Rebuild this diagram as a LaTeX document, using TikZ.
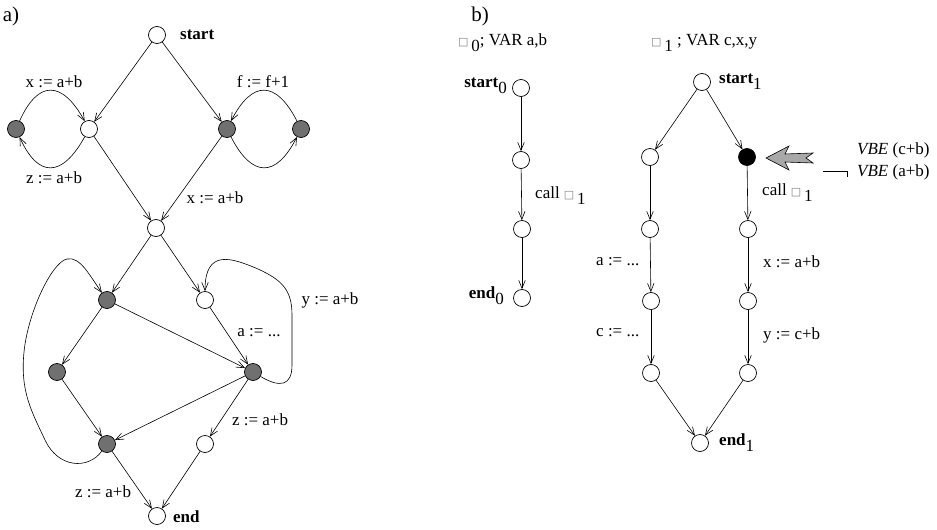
\documentclass[tikz,border=0pt]{standalone}
\usepackage{fontspec}
\setmainfont{Liberation Serif}
\newfontfamily\symf{DejaVu Sans}
\usetikzlibrary{arrows.meta}
\definecolor{nodegray}{HTML}{707070}
\definecolor{arrowgray}{HTML}{A8A8A8}
% placeholder box glyph for the process name
\newcommand{\pbox}{\textcolor{gray}{\symf\fontsize{11}{11}\selectfont □}}
\newcommand{\lowsub}[1]{\raisebox{-6pt}{#1}}
\tikzset{
  every node/.style={font=\fontsize{17}{20}\selectfont},
  vtx/.style={circle, draw, line width=0.7pt, minimum size=17pt, inner sep=0pt, fill=white},
  gvtx/.style={vtx, fill=nodegray},
  bvtx/.style={vtx, fill=black},
  arr/.style={line width=0.6pt, -{Straight Barb[length=8pt,width=6.5pt,line width=0.6pt]}},
  lbl/.style={inner sep=0pt},
  panel/.style={inner sep=0pt, font=\fontsize{21}{24}\selectfont},
}
\begin{document}
\begin{tikzpicture}[x=1pt,y=-1pt]
\useasboundingbox (0,0) rectangle (937,530);

% ---------------- panel a ----------------
\node[panel] (pa) at (11,16) {a)};

\node[vtx]  (s)   at (157,35)  {};
\node[gvtx] (gl)  at (16,129)  {};
\node[vtx]  (wl)  at (89,129)  {};
\node[gvtx] (gr)  at (227,129) {};
\node[gvtx] (grr) at (301,129) {};
\node[vtx]  (m)   at (156,228) {};
\node[gvtx] (g1)  at (107,300) {};
\node[vtx]  (w2)  at (205,300) {};
\node[gvtx] (g3)  at (57,372)  {};
\node[gvtx] (g4)  at (253,372) {};
\node[gvtx] (g5)  at (107,444) {};
\node[vtx]  (w6)  at (205,444) {};
\node[vtx]  (e)   at (157,516) {};

\node[lbl, anchor=west, font=\fontsize{17}{20}\selectfont\bfseries] (sl) at (180,35) {start};
\node[lbl, anchor=west, font=\fontsize{17}{20}\selectfont\bfseries] (el) at (173,517) {end};

\draw[arr] (s) -- (wl);
\draw[arr] (s) -- (gr);
\draw[arr] (gl) .. controls (38,80) and (62,80) .. (wl);
\draw[arr] (wl) .. controls (62,178) and (38,178) .. (gl);
\draw[arr] (gr) .. controls (252,178) and (276,178) .. (grr);
\draw[arr] (grr) .. controls (276,80) and (252,80) .. (gr);
\draw[arr] (wl) -- (m);
\draw[arr] (gr) -- (m);
\draw[arr] (m) -- (g1);
\draw[arr] (m) -- (w2);
\draw[arr] (g1) -- (g3);
\draw[arr] (g1) -- (g4);
\draw[arr] (w2) -- (g4);
\draw[arr] (g3) -- (g5);
\draw[arr] (g4) -- (g5);
\draw[arr] (g4) -- (w6);
\draw[arr] (g5) -- (e);
\draw[arr] (w6) -- (e);
% back edge g4 -> w2 round the right
\draw[arr] (g4) .. controls (280,388) and (292,386) .. (292,365)
  -- (292,315) .. controls (292,290) and (282,280) .. (258,269)
  .. controls (232,258) and (205,248) .. (w2);
% back edge g5 -> g1 round the left
\draw[arr] (g5) .. controls (88,470) and (58,468) .. (45,440)
  .. controls (32,412) and (20,392) .. (24,352)
  .. controls (28,312) and (52,262) .. (67,259)
  .. controls (80,256) and (90,276) .. (g1);

\node[lbl] (l1) at (54,82)   {x := a+b};
\node[lbl] (l2) at (54,178)  {z := a+b};
\node[lbl] (l3) at (263,82)  {f := f+1};
\node[lbl] (l4) at (215,198) {x := a+b};
\node[lbl] (l5) at (330,300) {y := a+b};
\node[lbl] (l6) at (259,333) {a := ...};
\node[lbl] (l7) at (260,420) {z := a+b};
\node[lbl] (l8) at (103,492) {z := a+b};

% ---------------- panel b ----------------
\node[panel] (pb) at (480,16) {b)};

\node[lbl, anchor=west] (h0) at (458,43) {\pbox\,\lowsub{0}; VAR a,b};
\node[lbl, anchor=west] (h1) at (651,43) {\pbox\,\lowsub{1} ; VAR c,x,y};

% procedure 0
\node[vtx] (a0) at (521,88)  {};
\node[vtx] (a1) at (521,160) {};
\node[vtx] (a2) at (522,229) {};
\node[vtx] (a3) at (522,298) {};
\draw[arr] (a0) -- (a1);
\draw[arr] (a1) -- (a2);
\draw[arr] (a2) -- (a3);
\node[lbl, anchor=east] (a0l) at (507,86) {\textbf{start}\lowsub{0}};
\node[lbl, anchor=east] (a3l) at (504,296) {\textbf{end}\lowsub{0}};
\node[lbl, anchor=west] (c0) at (535,196) {call \pbox\,\lowsub{1}};

% procedure 1
\node[vtx]  (b0) at (702,82)  {};
\node[vtx]  (p1) at (650,157) {};
\node[vtx]  (p2) at (650,229) {};
\node[vtx]  (p3) at (651,301) {};
\node[vtx]  (p4) at (651,373) {};
\node[bvtx] (q1) at (747,157) {};
\node[vtx]  (q2) at (748,229) {};
\node[vtx]  (q3) at (748,301) {};
\node[vtx]  (q4) at (748,373) {};
\node[vtx]  (b5) at (700,443) {};
\draw[arr] (b0) -- (p1);
\draw[arr] (b0) -- (q1);
\draw[arr] (p1) -- (p2);
\draw[arr] (p2) -- (p3);
\draw[arr] (p3) -- (p4);
\draw[arr] (q1) -- (q2);
\draw[arr] (q2) -- (q3);
\draw[arr] (q3) -- (q4);
\draw[arr] (p4) -- (b5);
\draw[arr] (q4) -- (b5);

\node[lbl, anchor=west] (b0l) at (719,82)  {\textbf{start}\lowsub{1}};
\node[lbl, anchor=west] (b5l) at (719,443) {\textbf{end}\lowsub{1}};
\node[lbl, anchor=west] (la) at (596,262) {a := ...};
\node[lbl, anchor=west] (lc) at (596,333) {c := ...};
\node[lbl, anchor=west] (lx) at (763,262) {x := a+b};
\node[lbl, anchor=west] (ly) at (763,335) {y := c+b};
\node[lbl, anchor=west] (c1) at (762,193) {call \pbox\,\lowsub{1}};

% hint arrow and the two expressions
\draw[line width=0.6pt, fill=arrowgray] (766,158) -- (789,146) -- (785,154) -- (813,153)
  -- (806,158) -- (813,163) -- (785,162) -- (789,170) -- cycle;
\node[lbl, anchor=west] (v1) at (857,150) {\textit{VBE} (c+b)};
\node[lbl, anchor=west] (v2) at (857,172) {\textit{VBE} (a+b)};
\coordinate (n0) at (823,171);
\coordinate (n1) at (847,171);
\coordinate (n2) at (847,177);
\draw[line width=0.6pt] (n0) -- (n1) -- (n2);
\end{tikzpicture}
\end{document}
